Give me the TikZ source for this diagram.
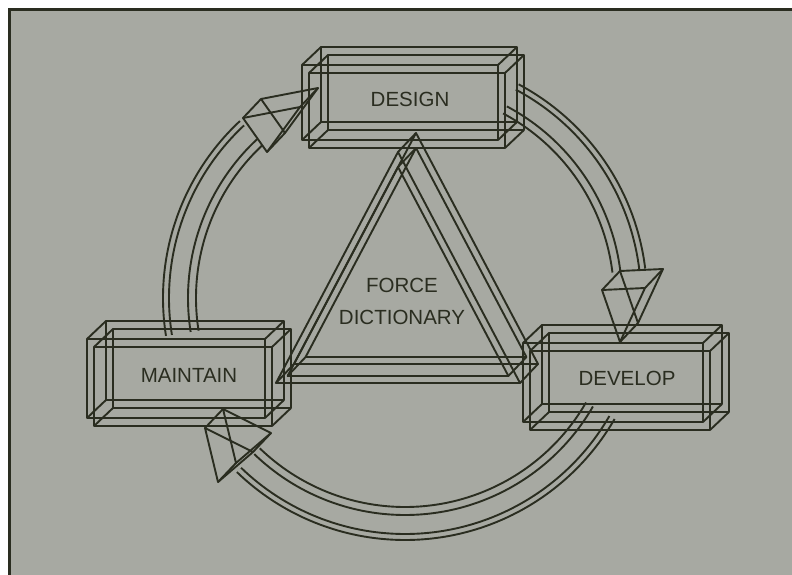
\documentclass[tikz,border=0pt]{standalone}
\usepackage{fontspec}
\setmainfont{Liberation Sans}
\definecolor{panel}{RGB}{167,169,162}
\definecolor{ink}{RGB}{42,45,32}
\newcommand{\wcube}[4]{%
  \foreach \ox/\oy in {0/0,7/8}{%
    \draw[wire] (#1+\ox,#2+\oy) rectangle ++(#3,#4);
    \draw[wire] (#1+\ox+19,#2+\oy-18) rectangle ++(#3,#4);
    \foreach \a/\b in {0/0,#3/0,0/#4,#3/#4}
      \draw[wire] (#1+\ox+\a,#2+\oy+\b) -- ++(19,-18);
  }}
\newcommand{\wprism}[6]{%
  \draw[wire] (#1,#2) -- (#3,#4) -- (#5,#6) -- cycle;
  \draw[wire] (#1+18,#2-19) -- (#3+18,#4-19) -- (#5+18,#6-19) -- cycle;
  \draw[wire] (#1,#2) -- ++(18,-19);
  \draw[wire] (#3,#4) -- ++(18,-19);
  \draw[wire] (#5,#6) -- ++(18,-19);}
\begin{document}
\begin{tikzpicture}[x=1pt,y=-1pt,
  wire/.style={draw=ink,line width=1.9pt,line join=round},
  lbl/.style={text=ink,font=\fontsize{20.5}{32}\selectfont,inner sep=0pt,align=center}]
\useasboundingbox (0,0) rectangle (792,575);
\fill[white] (0,0) rectangle (792,575);
\fill[panel] (8,8) rectangle (792,575);
\draw[ink,line width=3pt] (9.5,575) -- (9.5,9.5) -- (792,9.5);
% boxes
\wcube{302}{65}{196}{75}
\wcube{87}{339}{178}{79}
\wcube{523}{343}{180}{79}
% triangle (front frame + back frame)
\foreach \dx/\dy in {0/0,18/-19}{
  \draw[wire] (398+\dx,152+\dy) -- (276+\dx,383+\dy) -- (520+\dx,383+\dy) -- cycle;
  \draw[wire] (398+\dx,167+\dy) -- (287.6+\dx,376+\dy) -- (508.4+\dx,376+\dy) -- cycle;
}
\foreach \x/\y in {398/152,276/383,520/383,398/167,287.6/376,508.4/376}
  \draw[wire] (\x,\y) -- ++(18,-19);
% arrows
\coordinate (c) at (405,298);
\foreach \r in {209,217,236,242}{
  \draw[wire] (c) ++(-62:\r) arc[start angle=-62,end angle=-7,radius=\r];
  \draw[wire] (c) ++(30:\r) arc[start angle=30,end angle=134,radius=\r];
  \draw[wire] (c) ++(171:\r) arc[start angle=171,end angle=227,radius=\r];
}
\wprism{602}{290}{645}{288}{620}{342}
\wprism{243}{118}{267}{152}{300}{107}
\wprism{218}{482}{253}{452}{205}{428}
% labels
\node[lbl] (design) at (410,99) {DESIGN};
\node[lbl] (maintain) at (189,375) {MAINTAIN};
\node[lbl] (develop) at (627,378) {DEVELOP};
\node[lbl] (force) at (402,301) {FORCE\\DICTIONARY};
\end{tikzpicture}
\end{document}
